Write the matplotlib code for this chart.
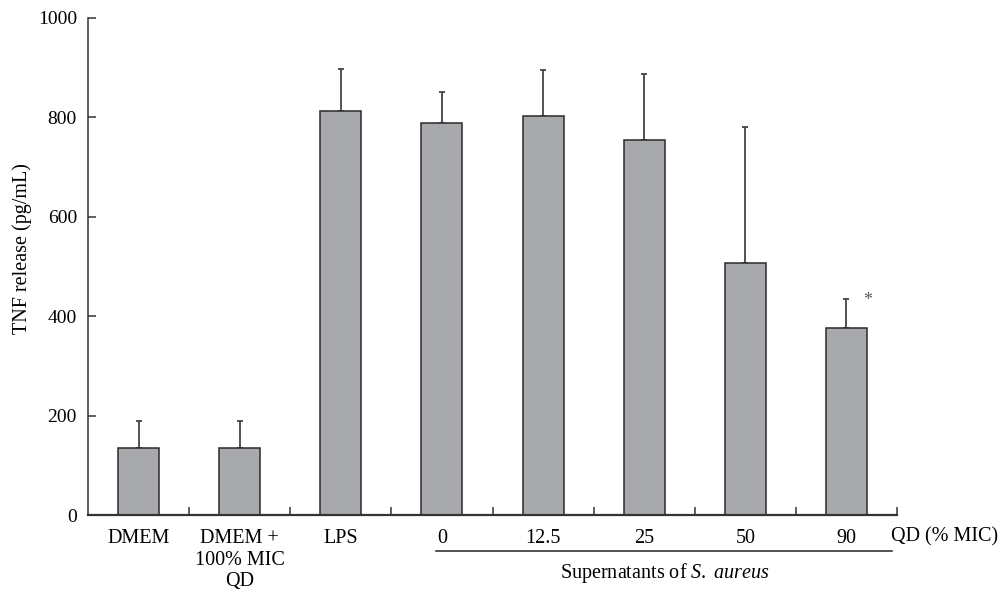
import matplotlib
matplotlib.use("Agg")
import matplotlib.pyplot as plt
import numpy as np

categories = ["DMEM", "DMEM +\n100% MIC\nQD", "LPS", "0", "12.5", "25", "50", "90"]
means = [135, 135, 813, 789, 803, 754, 507, 377]
errors = [55, 55, 85, 63, 93, 134, 274, 58]
yticks = [0, 200, 400, 600, 800, 1000]

plt.rcParams['font.family'] = ['Liberation Serif', 'DejaVu Serif']
plt.rcParams['mathtext.fontset'] = 'custom'
plt.rcParams['mathtext.rm'] = 'Liberation Serif'
plt.rcParams['mathtext.it'] = 'Liberation Serif:italic'

fig = plt.figure(figsize=(9.99, 5.91), dpi=100)
ax = fig.add_axes([88/999, 1-515/591, (897-88)/999, (515-18)/591])

x = np.arange(len(categories))
ax.bar(x, means, width=0.405, color='#a8a9ac', edgecolor='#2a2a2a', linewidth=1.1, zorder=2)
ax.errorbar(x, means, yerr=[np.zeros(len(errors)), errors], fmt='none',
            ecolor='#444444', elinewidth=1.3, capsize=2.5, capthick=1.3, zorder=1)

ax.set_xlim(-0.5, len(categories) - 0.5)
ax.set_ylim(0, 1000)
ax.set_yticks(yticks)
ax.set_yticklabels([str(v) for v in yticks], fontsize=14)
ax.set_xticks(x)
ax.set_xticklabels(categories, fontsize=14.5, linespacing=1.2, va='top')
ax.set_xticks(x + 0.5, minor=True)
ax.tick_params(axis='x', which='major', length=0, pad=10)
ax.tick_params(axis='x', which='minor', direction='in', length=6, width=1.1, color='#333333')
ax.tick_params(axis='y', direction='in', length=6, width=1.1, pad=8, color='#333333')

for s in ['top', 'right']:
    ax.spines[s].set_visible(False)
ax.spines['left'].set_linewidth(1.1)
ax.spines['left'].set_color('#333333')
ax.spines['bottom'].set_linewidth(1.6)
ax.spines['bottom'].set_color('#333333')

fig.text(22/999, 1-249/591, "TNF release (pg/mL)", rotation=90, ha='center', va='center', fontsize=14.5)

# significance marker
ax.text(x[7] + 0.21, means[7] + errors[7] - 4, "*", ha='center', va='center', fontsize=13, color='#555555')

# group annotation
trans = ax.get_xaxis_transform()
ax.plot([x[3] - 0.06, x[7] + 0.45], [-0.073, -0.073], transform=trans, clip_on=False, color='#222222', lw=1.1)
ax.text((x[3] + x[7]) / 2 + 0.2, -0.117, r"Supernatants of $\it{S.\ aureus}$", transform=trans,
        ha='center', va='center', fontsize=14.5)
ax.text(7.44, -0.043, "QD (% MIC)", transform=trans, ha='left', va='center', fontsize=14.5)

fig.savefig("out.png", dpi=100)
